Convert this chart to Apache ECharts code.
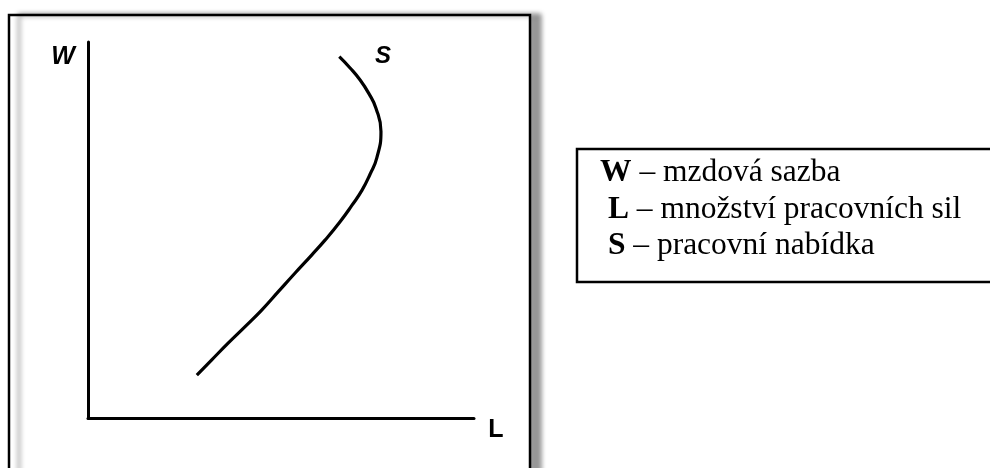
<!DOCTYPE html>
<html>
<head>
<meta charset="utf-8">
<script src="https://cdn.jsdelivr.net/npm/echarts@6/dist/echarts.min.js"></script>
<style>html,body{margin:0;padding:0;background:#fff}#c{width:990px;height:468px}</style>
</head>
<body>
<div id="c"></div>
<script>
// Labour supply curve S (backward-bending), in axis units 0..100
var laborL = [28.2, 32.0, 36.3, 40.7, 45.0, 49.3, 53.6, 58.0, 61.4, 65.3, 68.4, 71.0, 73.1, 74.8, 75.9, 74.6, 72.7, 70.5, 67.9, 65.1];
var wageW  = [11.4, 15.4, 19.9, 24.3, 28.7, 33.6, 38.5, 43.4, 47.3, 52.2, 56.6, 60.6, 64.9, 69.1, 76.2, 82.4, 86.4, 89.9, 93.1, 96.1];
var axisNames = ['W', 'L'];
var curveName = 'S';
var legendLines = [
  ['W', ' – mzdová sazba'],
  [' L', ' – množství pracovních sil'],
  [' S', ' – pracovní nabídka']
];

var chart = echarts.init(document.getElementById('c'), null, {renderer: 'canvas'});
var pts = laborL.map(function (x, i) { return [x, wageW[i]]; });

var graphics = [
  {type: 'rect', z: -10, shape: {x: 9, y: 15, width: 521, height: 470},
   style: {fill: '#fff', stroke: '#000', lineWidth: 2.5,
           shadowBlur: 5, shadowOffsetX: 10, shadowOffsetY: 0, shadowColor: 'rgba(0,0,0,0.4)'}},
  {type: 'text', x: 63, y: 57, style: {text: axisNames[0], font: 'italic bold 25px "Liberation Sans", Arial, sans-serif', fill: '#000', align: 'center', verticalAlign: 'middle'}},
  {type: 'text', x: 496, y: 430, style: {text: axisNames[1], font: 'bold 25px "Liberation Sans", Arial, sans-serif', fill: '#000', align: 'center', verticalAlign: 'middle'}},
  {type: 'text', x: 383, y: 56, style: {text: curveName, font: 'italic bold 24px "Liberation Sans", Arial, sans-serif', fill: '#000', align: 'center', verticalAlign: 'middle'}},
  {type: 'rect', shape: {x: 577, y: 149, width: 430, height: 133},
   style: {fill: '#fff', stroke: '#000', lineWidth: 2.5}}
];
legendLines.forEach(function (ln, i) {
  graphics.push({
    type: 'text', x: 600, y: 173 + i * 36.5,
    style: {
      text: '{b|' + ln[0] + '}{r|' + ln[1] + '}',
      fill: '#000', align: 'left', verticalAlign: 'middle',
      rich: {
        b: {font: 'bold 31.5px "Liberation Serif", "Times New Roman", serif', fill: '#000'},
        r: {font: '31.5px "Liberation Serif", "Times New Roman", serif', fill: '#000'}
      }
    }
  });
});

var axisCommon = {
  type: 'value', min: 0, max: 100,
  axisLine: {show: true, lineStyle: {color: '#000', width: 3}},
  axisTick: {show: false}, axisLabel: {show: false}, splitLine: {show: false}
};

chart.setOption({
  animation: false,
  backgroundColor: '#fff',
  grid: {left: 88, top: 42, right: 516, bottom: 50, containLabel: false},
  xAxis: Object.assign({}, axisCommon),
  yAxis: Object.assign({}, axisCommon),
  graphic: graphics,
  series: [{
    type: 'line', name: curveName, data: pts, smooth: 0.5,
    symbol: 'none', lineStyle: {color: '#000', width: 3.2, cap: 'butt'}, z: 5
  }]
});
</script>
</body>
</html>
